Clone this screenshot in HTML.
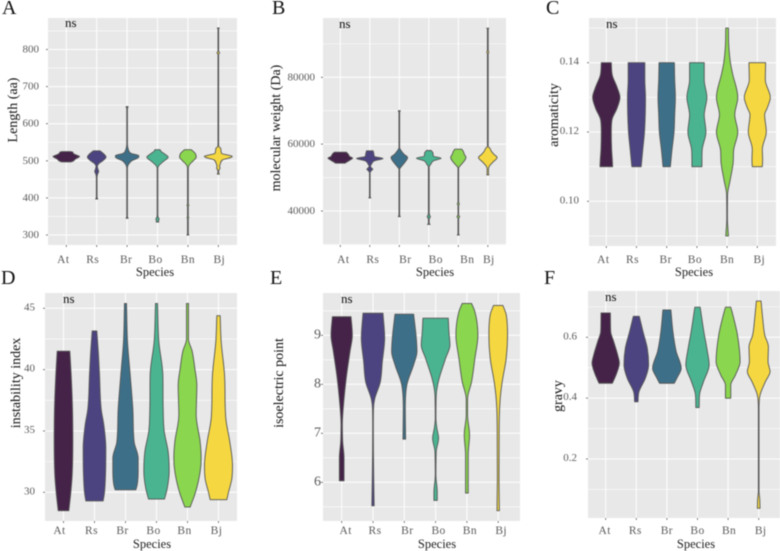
<!DOCTYPE html>
<html>
<head>
<meta charset="utf-8">
<title>Protein property violin plots</title>
<style>
html,body{margin:0;padding:0;background:#fff;width:780px;height:551px;overflow:hidden}
svg{display:block;filter:blur(0.45px)}
text{font-family:"Liberation Serif",serif}
</style>
</head>
<body>
<svg id="figure" xmlns="http://www.w3.org/2000/svg" width="780" height="551" viewBox="0 0 780 551"></svg>
<script>
const species = ["At","Rs","Br","Bo","Bn","Bj"];
const speciesColors = ["#452349","#4b4480","#3d7088","#4ab491","#8ad64e","#f5d841"];

/* Each violin: [measured value, relative density] */
const lengthTicks = [300,400,500,600,700,800];
const lengthAt = [[497,14],[500,22],[505,28],[510,38],[512,40],[515,32],[519,22],[524,18],[525,12]];
const lengthRs = [[397,3],[402,1],[455,1],[465,3],[471,6],[477,4],[485,2],[492,6],[500,18],[510,28],[518,22],[524,14],[527,10]];
const lengthBr = [[345,3],[350,1],[480,1],[490,4],[500,14],[510,35],[514,35],[520,12],[530,4],[537,2],[545,1],[640,1],[646,3]];
const lengthBo = [[335,4],[338,3],[343,5],[348,2],[355,1],[480,1],[488,5],[497,16],[510,32],[518,22],[526,10],[530,8]];
const lengthBn = [[300,3],[303,1.2],[345,1.2],[347,3],[350,1.2],[378,1.2],[380,3],[383,1.2],[480,1.2],[490,5],[500,16],[510,25],[520,22],[527,14],[530,10]];
const lengthBj = [[464,3],[470,1],[475,2],[480,5],[486,4],[492,6],[503,14],[509,38],[512,42],[515,30],[520,10],[528,8],[534,7],[538,2],[545,1],[787,1],[791,4],[795,1],[855,1],[858,3]];

const weightTicks = [40000,60000,80000];
const weightAt = [[54300,14],[54800,22],[55300,30],[55800,37],[56300,28],[57000,24],[57600,18]];
const weightRs = [[43900,3],[44300,1],[51500,1],[52200,6],[52500,9],[52800,6],[53400,2],[54000,5],[55000,14],[55700,40],[56300,14],[57200,12],[58000,10]];
const weightBr = [[38300,3],[38800,1],[52500,1],[53500,8],[55000,20],[56000,25],[57000,14],[58000,6],[58600,2],[59000,1],[69500,1],[70000,3]];
const weightBo = [[36000,4],[36300,1.2],[37500,1.2],[38000,3],[38300,5],[38600,3],[39500,1.2],[53200,1.2],[54000,6],[55000,14],[55800,37],[56400,14],[57500,12],[58100,7]];
const weightBn = [[32800,3],[33200,1],[37800,1],[38300,4],[38800,1],[41600,1],[42100,3],[42600,1],[52800,1],[53800,8],[55000,18],[56000,23],[57000,18],[58000,14],[58500,10]];
const weightBj = [[50800,3],[51200,2],[52500,2],[53300,4],[54500,14],[56000,28],[57000,18],[58000,10],[58800,6],[59300,1.2],[87000,1.2],[87500,3],[88000,1.2],[94300,1.2],[94700,3]];

const aromaticityTicks = [0.10,0.12,0.14];
const aromaticityAt = [[0.11,19],[0.112,18],[0.115,16],[0.12,15],[0.1235,17],[0.1268,32],[0.13,41],[0.133,32],[0.1364,18],[0.14,15]];
const aromaticityRs = [[0.11,14],[0.115,19],[0.12,24],[0.13,27],[0.135,25],[0.14,25]];
const aromaticityBr = [[0.11,11],[0.115,16],[0.12,22],[0.125,24],[0.13,26],[0.135,24],[0.14,23]];
const aromaticityBo = [[0.11,15],[0.112,15],[0.115,16],[0.12,27],[0.125,22],[0.1265,24],[0.13,30],[0.135,22],[0.14,22]];
const aromaticityBn = [[0.09,4],[0.095,1],[0.102,1.5],[0.106,9],[0.111,18],[0.115,20],[0.12,32],[0.125,23],[0.13,32],[0.137,16],[0.14,10],[0.145,5],[0.15,4]];
const aromaticityBj = [[0.11,15],[0.112,16],[0.115,15],[0.12,27],[0.125,22],[0.127,30],[0.13,39],[0.135,24],[0.14,25]];

const instabilityTicks = [30,35,40,45];
const instabilityAt = [[28.5,16],[30,22],[31.4,26],[34.1,28],[36.8,27],[39.6,23],[41.5,19]];
const instabilityRs = [[29.3,26],[30,30],[31.4,33],[33.6,34],[35.5,28],[36.8,20],[39.6,15],[41.2,12],[43.15,7]];
const instabilityBr = [[30.2,31],[30.6,35],[31.7,38],[32.8,38],[34.1,26],[36.8,22],[39.6,14],[42.3,6],[45.4,3]];
const instabilityBo = [[29.45,24],[30.3,32],[31.7,38],[33.3,35],[35,23],[36.8,20],[39.6,19],[42.3,7],[45.4,3]];
const instabilityBn = [[28.8,8],[30,24],[31.7,38],[32.8,41],[34.1,38],[36.3,26],[38.75,28],[40.1,22],[41.5,14],[42.5,3],[45.4,3]];
const instabilityBj = [[29.4,25],[30,30],[31.1,40],[32.2,42],[34.1,34],[36,22],[39.6,18],[42.3,8],[44.4,5]];

const isoelectricTicks = [6,7,8,9];
const isoelectricAt = [[6.03,7],[6.5,7],[6.83,3],[7.17,2],[7.7,7],[8.2,15],[8.67,25],[9,32],[9.38,28]];
const isoelectricRs = [[5.52,3.5],[6.15,2],[7.1,1],[7.5,1.5],[7.7,5],[8.05,22],[8.46,28],[8.94,35],[9.45,30]];
const isoelectricBr = [[6.88,4],[7.5,3],[8,8],[8.4,28],[8.67,38],[8.94,36],[9.43,28]];
const isoelectricBo = [[5.63,5],[5.8,5],[6.15,1],[6.63,2],[6.9,9],[7.1,4],[7.3,1],[7.78,2],[8.05,8],[8.53,30],[8.8,43],[9.07,40],[9.35,38]];
const isoelectricBn = [[5.78,4],[6,4],[6.56,4],[6.97,8],[7.37,2],[7.7,2],[8.05,14],[8.53,24],[9,33],[9.48,24],[9.65,14]];
const isoelectricBj = [[5.42,3.5],[6.15,2.5],[7.17,3],[7.7,6],[8.05,12],[8.53,24],[9,28],[9.42,24],[9.61,14]];

const gravyTicks = [0.2,0.4,0.6];
const gravyAt = [[0.449,20],[0.482,33],[0.515,41],[0.542,36],[0.586,24],[0.619,15],[0.68,14]];
const gravyRs = [[0.388,5],[0.421,8],[0.465,27],[0.509,37],[0.564,33],[0.619,20],[0.669,9]];
const gravyBr = [[0.449,22],[0.47,32],[0.498,43],[0.553,28],[0.619,18],[0.69,12]];
const gravyBo = [[0.369,5],[0.41,6],[0.454,18],[0.509,35],[0.564,28],[0.619,19],[0.699,8]];
const gravyBn = [[0.4,8],[0.443,8],[0.476,22],[0.52,36],[0.608,28],[0.662,17],[0.699,8]];
const gravyBj = [[0.038,4],[0.07,3],[0.093,1],[0.367,1],[0.41,4],[0.454,20],[0.487,34],[0.52,28],[0.569,29],[0.608,18],[0.662,12],[0.719,7]];

/* Layout only: panel rectangles, axis calibration and label placement */
const panels = [
 {id:"a",letter:"A",letterX:2,letterY:14,title:"Length (aa)",titleX:17,titleY:110,ticks:lengthTicks,fmt:v=>String(v),
  series:[lengthAt,lengthRs,lengthBr,lengthBo,lengthBn,lengthBj],
  left:48,right:237,top:18,bottom:245,v0:300,p0:235,v1:800,p1:49.5,cat0:66.3,catStep:30.4,
  tickRight:39,tickSize:11,tickDy:3,labelDx:[-3,-4,-1,-2,0,1],labelY:263,ns:[65,27],speciesX:155,speciesY:276},
 {id:"b",letter:"B",letterX:272,letterY:14,title:"molecular weight (Da)",titleX:280,titleY:128,ticks:weightTicks,fmt:v=>String(v),
  series:[weightAt,weightRs,weightBr,weightBo,weightBn,weightBj],
  left:323,right:506,top:18,bottom:245,v0:40000,p0:211,v1:80000,p1:77.3,cat0:340.3,catStep:29.5,
  tickRight:315,tickSize:11,tickDy:3,labelDx:[3,3,6,7,9,1],labelY:263,ns:[339,28],speciesX:435,speciesY:276},
 {id:"c",letter:"C",letterX:546,letterY:14,title:"aromaticity",titleX:558,titleY:115,ticks:aromaticityTicks,fmt:v=>v.toFixed(2),
  series:[aromaticityAt,aromaticityRs,aromaticityBr,aromaticityBo,aromaticityBn,aromaticityBj],
  left:589,right:776,top:18,bottom:246,v0:0.10,p0:201.3,v1:0.14,p1:62.7,cat0:606.3,catStep:30.2,
  tickRight:579,tickSize:11,tickDy:2,labelDx:[-3,-4,-1,-2,0,2],labelY:263,ns:[606,28],speciesX:694,speciesY:276},
 {id:"d",letter:"D",letterX:1,letterY:284,title:"instability index",titleX:20,titleY:383,ticks:instabilityTicks,fmt:v=>String(v),
  series:[instabilityAt,instabilityRs,instabilityBr,instabilityBo,instabilityBn,instabilityBj],
  left:45,right:237,top:293,bottom:521,v0:30,p0:492.3,v1:45,p1:308.3,cat0:63.5,catStep:31,
  tickRight:35,tickSize:11,tickDy:2,labelDx:[-4,-3,-3,-3,-3,-2],labelY:534,ns:[63,303],speciesX:152,speciesY:548},
 {id:"e",letter:"E",letterX:270,letterY:284,title:"isoelectric point",titleX:283,titleY:383,ticks:isoelectricTicks,fmt:v=>String(v),
  series:[isoelectricAt,isoelectricRs,isoelectricBr,isoelectricBo,isoelectricBn,isoelectricBj],
  left:323,right:520,top:293,bottom:521,v0:6,p0:482.3,v1:9,p1:335.3,cat0:341.7,catStep:31.3,
  tickRight:321,tickSize:14,tickDy:3,labelDx:[4,2,3,3,3,3],labelY:534,ns:[341,303],speciesX:437,speciesY:548},
 {id:"f",letter:"F",letterX:544,letterY:284,title:"gravy",titleX:562,titleY:396,ticks:gravyTicks,fmt:v=>v.toFixed(1),
  series:[gravyAt,gravyRs,gravyBr,gravyBo,gravyBn,gravyBj],
  left:588,right:780,top:291,bottom:518,v0:0.2,p0:459,v1:0.6,p1:337.3,cat0:605.7,catStep:30.6,
  tickRight:577,tickSize:11,tickDy:2,labelDx:[-1,-1,0,0,1,2],labelY:534,ns:[605,301],speciesX:696,speciesY:548}
];

const widthScale = d => d / 3;
const figure = document.getElementById("figure");
const SVG_NS = "http://www.w3.org/2000/svg";

function make(tag, attrs, parent, txt) {
  const node = document.createElementNS(SVG_NS, tag);
  for (const k in attrs) node.setAttribute(k, attrs[k]);
  if (txt !== undefined) node.textContent = txt;
  parent.appendChild(node);
  return node;
}

function tangents(xs, ys) {
  const n = xs.length, sec = [], m = [];
  for (let i = 0; i < n - 1; i++) sec.push((xs[i + 1] - xs[i]) / (ys[i + 1] - ys[i]));
  m[0] = sec[0];
  m[n - 1] = sec[n - 2];
  for (let i = 1; i < n - 1; i++) {
    if (sec[i - 1] * sec[i] <= 0) { m[i] = 0; continue; }
    const mean = (sec[i - 1] + sec[i]) / 2;
    const limit = 3 * Math.min(Math.abs(sec[i - 1]), Math.abs(sec[i]));
    m[i] = Math.sign(mean) * Math.min(Math.abs(mean), limit);
  }
  return m;
}

function violinPath(points, cx, yScale) {
  const ys = points.map(p => yScale(p[0]));
  const hw = points.map(p => widthScale(p[1]));
  const m = tangents(hw, ys);
  const n = points.length;
  const f = v => v.toFixed(2);
  let d = "M" + f(cx - hw[0]) + " " + f(ys[0]);
  for (let i = 0; i < n - 1; i++) {
    const h = (ys[i + 1] - ys[i]) / 3;
    d += "C" + f(cx - hw[i] - m[i] * h) + " " + f(ys[i] + h) + " " +
         f(cx - hw[i + 1] + m[i + 1] * h) + " " + f(ys[i + 1] - h) + " " +
         f(cx - hw[i + 1]) + " " + f(ys[i + 1]);
  }
  d += "L" + f(cx + hw[n - 1]) + " " + f(ys[n - 1]);
  for (let i = n - 2; i >= 0; i--) {
    const h = (ys[i + 1] - ys[i]) / 3;
    d += "C" + f(cx + hw[i + 1] - m[i + 1] * h) + " " + f(ys[i + 1] - h) + " " +
         f(cx + hw[i] + m[i] * h) + " " + f(ys[i] + h) + " " +
         f(cx + hw[i]) + " " + f(ys[i]);
  }
  return d + "Z";
}

panels.forEach(p => {
  const yScale = v => p.p0 + (v - p.v0) * (p.p1 - p.p0) / (p.v1 - p.v0);
  const xScale = i => p.cat0 + i * p.catStep;

  const g = make("g", {}, figure);
  
  

  const letter = make("text", {x:p.letterX, y:p.letterY, "font-size":20, fill:"#111"}, g, p.letter);
  
  

  const bg = make("rect", {x:p.left, y:p.top, width:p.right - p.left, height:p.bottom - p.top, fill:"#e8e8e8"}, g);
  
  

  const grid = make("g", {stroke:"#fff", fill:"none"}, g);
  
  

  const halfStep = (p.ticks[1] - p.ticks[0]) / 2;
  for (let k = -6; k <= 2 * p.ticks.length + 6; k++) {
    const v = p.ticks[0] + k * halfStep;
    const y = yScale(v);
    if (y <= p.top || y >= p.bottom) continue;
    const line = make("line", {x1:p.left, x2:p.right, y1:y, y2:y, "stroke-width":k % 2 === 0 ? 1 : 0.6}, grid);
    
    
  }
  species.forEach((s, i) => {
    const line = make("line", {x1:xScale(i), x2:xScale(i), y1:p.top, y2:p.bottom, "stroke-width":1}, grid);
    
    
  });

  p.ticks.forEach(v => {
    const y = yScale(v);
    const tick = make("line", {x1:p.left - 2, x2:p.left, y1:y, y2:y, stroke:"#444", "stroke-width":0.7}, g);
    
    
    const label = make("text", {x:p.tickRight, y:y + p.tickDy, "text-anchor":"end", "font-size":p.tickSize, fill:"#5a5a5a"}, g, p.fmt(v));
    
    
  });

  species.forEach((s, i) => {
    const cx = xScale(i);
    const tick = make("line", {x1:cx, x2:cx, y1:p.bottom, y2:p.bottom + 2, stroke:"#444", "stroke-width":0.7}, g);
    
    
    const label = make("text", {x:cx + p.labelDx[i], y:p.labelY, "text-anchor":"middle", "font-size":11.5, "letter-spacing":0.4, fill:"#5a5a5a"}, g, s);
    
    
    const violin = make("path", {d:violinPath(p.series[i], cx, yScale), fill:speciesColors[i], stroke:"#555", "stroke-width":0.9, "stroke-linejoin":"round"}, g);
    
    
  });

  const ns = make("text", {x:p.ns[0], y:p.ns[1], "font-size":13, fill:"#111"}, g, "ns");
  
  

  const xt = make("text", {x:p.speciesX, y:p.speciesY, "text-anchor":"middle", "font-size":12.5, fill:"#222"}, g, "Species");
  
  

  const yt = make("text", {x:p.titleX, y:p.titleY, "text-anchor":"middle", "font-size":14, fill:"#111", transform:"rotate(-90 " + p.titleX + " " + p.titleY + ")"}, g, p.title);
  
  
});
</script>
</body>
</html>
